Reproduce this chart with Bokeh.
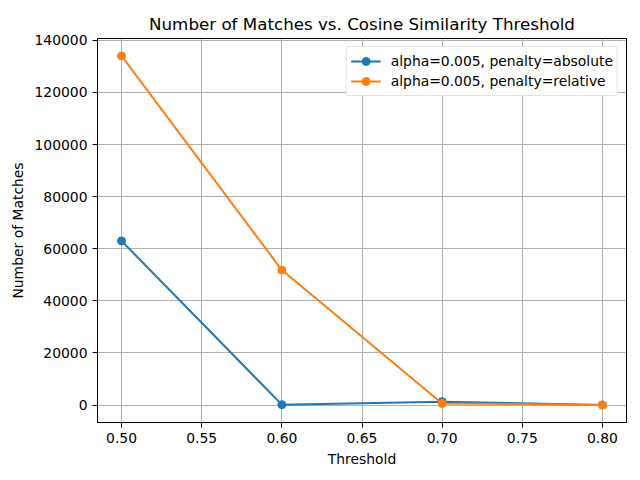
from bokeh.plotting import figure
from bokeh.models import FixedTicker, PrintfTickFormatter, Range1d, Legend, LegendItem
from bokeh.embed import file_html
from bokeh.resources import INLINE

# data
thresholds = [0.5, 0.6, 0.7, 0.8]
matches_absolute = [63000, 150, 1300, 50]
matches_relative = [134000, 51800, 600, 30]
x_ticks = [0.50, 0.55, 0.60, 0.65, 0.70, 0.75, 0.80]
y_ticks = [0, 20000, 40000, 60000, 80000, 100000, 120000, 140000]

FONT = "DejaVu Sans"
BLUE = "#1f77b4"
ORANGE = "#ff7f0e"

p = figure(width=640, height=480, output_backend="svg", toolbar_location=None,
           title="Number of Matches vs. Cosine Similarity Threshold",
           x_range=Range1d(0.485, 0.815), y_range=Range1d(-6700, 140700),
           min_border_left=97, min_border_right=14, min_border_top=38, min_border_bottom=58)

p.title.text_font = FONT
p.title.text_font_size = "16.7px"
p.title.text_font_style = "normal"
p.title.align = "center"
p.title.text_color = "black"
p.title.offset = 0

p.outline_line_color = "black"
p.outline_line_width = 1

for ax in (p.xaxis, p.yaxis):
    ax.axis_label_text_font = FONT
    ax.axis_label_text_font_size = "13.9px"
    ax.axis_label_text_font_style = "normal"
    ax.axis_label_text_color = "black"
    ax.major_label_text_font = FONT
    ax.major_label_text_font_size = "13.9px"
    ax.major_label_text_color = "black"
    ax.axis_line_color = "black"
    ax.major_tick_line_color = "black"
    ax.major_tick_out = 5
    ax.major_tick_in = 0
    ax.minor_tick_line_color = None

p.xaxis.axis_label = "Threshold"
p.yaxis.axis_label = "Number of Matches"
p.xaxis.ticker = FixedTicker(ticks=x_ticks)
p.yaxis.ticker = FixedTicker(ticks=y_ticks)
p.xaxis.formatter = PrintfTickFormatter(format="%.2f")
p.yaxis.formatter = PrintfTickFormatter(format="%d")

p.grid.grid_line_color = "#b0b0b0"
p.grid.grid_line_width = 1

l1 = p.line(thresholds, matches_absolute, line_color=BLUE, line_width=2)
s1 = p.scatter(thresholds, matches_absolute, size=8, fill_color=BLUE, line_color=BLUE)
l2 = p.line(thresholds, matches_relative, line_color=ORANGE, line_width=2)
s2 = p.scatter(thresholds, matches_relative, size=8, fill_color=ORANGE, line_color=ORANGE)

legend = Legend(items=[
    LegendItem(label="alpha=0.005, penalty=absolute", renderers=[l1, s1]),
    LegendItem(label="alpha=0.005, penalty=relative", renderers=[l2, s2]),
], location="top_right")
legend.label_text_font = FONT
legend.label_text_font_size = "13.9px"
legend.label_text_color = "black"
legend.border_line_color = "#cccccc"
legend.border_line_width = 1
legend.border_radius = 3
legend.margin = 8
legend.padding = 4
legend.spacing = 0
legend.label_standoff = 10
legend.glyph_width = 30
legend.label_height = 20
legend.glyph_height = 20
p.add_layout(legend)

open("out.html", "w").write(file_html(p, INLINE))
